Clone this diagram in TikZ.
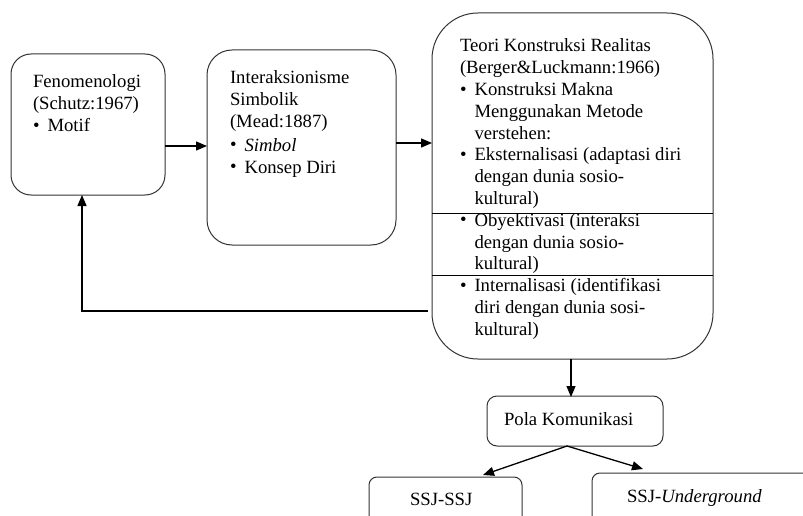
\documentclass[tikz,border=0pt]{standalone}
\usepackage{fontspec}
\setmainfont{Liberation Serif}
\usetikzlibrary{arrows.meta}

% bullet with a fixed hanging indent, and the matching indent for wrapped lines
\newcommand{\bul}{\makebox[14.5pt][l]{\raisebox{0.5pt}{•}}}
\newcommand{\ind}{\hspace*{14.5pt}}

\begin{document}
\begin{tikzpicture}[x=1pt,y=-1pt,
  every node/.style={font=\fontsize{18.7}{21.8}\selectfont, inner sep=0pt, outer sep=0pt},
  box/.style={draw=black!80, line width=1pt, fill=none, anchor=north west},
  txt/.style={anchor=base west, align=left},
  arr/.style={draw=black, line width=1.3pt, -{Triangle[length=11pt,width=9pt]}},
  divider/.style={draw=black, line width=0.9pt}]
\useasboundingbox (0,0) rectangle (803,516);
\clip (0,0) rectangle (803,516);

% boxes
\node[box, rounded corners=20pt, minimum width=154pt, minimum height=141pt] (b1) at (11,54) {};
\node[box, rounded corners=25pt, minimum width=189pt, minimum height=195pt] (b2) at (207,50) {};
\node[box, rounded corners=46pt, minimum width=281pt, minimum height=346pt] (b3) at (432,13) {};
\node[box, rounded corners=10pt, minimum width=176pt, minimum height=50pt] (pola) at (487,396) {};
\node[box, rounded corners=8pt, minimum width=153pt, minimum height=70pt] (s1) at (369,477) {};
\node[box, rounded corners=8pt, minimum width=240pt, minimum height=70pt] (s2) at (592,473) {};

% texts
\node[txt] (t1) at (33,88) {\begin{tabular}[t]{@{}l@{}}
Fenomenologi\\
(Schutz:1967)\\
\bul Motif
\end{tabular}};

\node[txt] (t2) at (230,84) {\begin{tabular}[t]{@{}l@{}}
Interaksionisme\\
Simbolik\\
(Mead:1887)\\[2pt]
\bul\textit{Simbol}\\
\bul Konsep Diri
\end{tabular}};

\node[txt] (t3) at (460,52) {\begin{tabular}[t]{@{}l@{}}
Teori Konstruksi Realitas\\
(Berger\&Luckmann:1966)\\
\bul Konstruksi Makna\\
\ind Menggunakan Metode\\
\ind verstehen:\\
\bul Eksternalisasi (adaptasi diri\\
\ind dengan dunia sosio-\\
\ind kultural)\\
\bul Obyektivasi (interaksi\\
\ind dengan dunia sosio-\\
\ind kultural)\\
\bul Internalisasi (identifikasi\\
\ind diri dengan dunia sosi-\\
\ind kultural)
\end{tabular}};

\node[txt] (tp) at (504,425) {Pola Komunikasi};
\node[txt] (ts1) at (410,505) {SSJ-SSJ};
\node[txt] (ts2) at (627,502) {SSJ-\textit{Underground}};

% dividers inside the theory box
\coordinate (d1) at (0,213);
\coordinate (d2) at (0,275);
\draw[divider] (b3.west |- d1) -- (b3.east |- d1);
\draw[divider] (b3.west |- d2) -- (b3.east |- d2);

% connectors
\coordinate (h1) at (0,146);
\coordinate (h2) at (0,143);
\draw[arr] (b1.east |- h1) -- (b2.west |- h1);
\draw[arr] (b2.east |- h2) -- (b3.west |- h2);

\coordinate (fb) at (82,311);
\draw[arr] ([xshift=-4pt]b3.west |- fb) -- (fb) -- (b1.south -| fb);

\coordinate (v) at (571,0);
\draw[arr] (b3.south -| v) -- ([yshift=-1pt]pola.north -| v);

\coordinate (split) at (567,446);
\coordinate (e1) at (483,475);
\coordinate (e2) at (643,469);
\draw[arr] (pola.south -| split) -- (e1);
\draw[arr] (pola.south -| split) -- (e2);
\end{tikzpicture}
\end{document}
